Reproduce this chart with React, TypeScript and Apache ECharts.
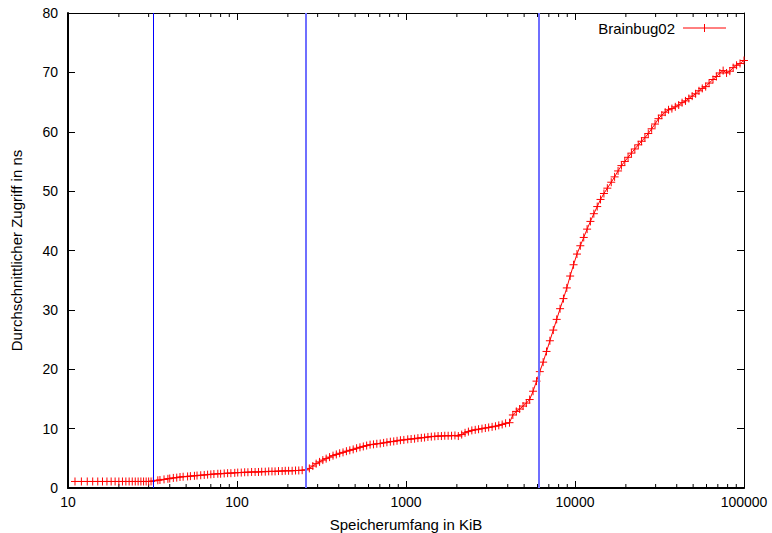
import React, { useEffect, useRef } from 'react';
import * as echarts from 'echarts';

const FONT = '"Liberation Sans", Arial, Helvetica, sans-serif';

// Memory size in KiB
const sizesKiB = [
  11, 12, 13, 14, 15, 16, 17, 18, 19, 20, 21, 22, 23, 24, 25, 26, 27, 28, 29, 30, 31,
  32, 34, 35, 37, 39, 40, 42, 44, 46, 48,
  51, 53, 56, 58, 61, 64, 67, 70, 73, 77,
  80, 84, 88, 92, 97, 101, 106, 111, 116, 122,
  128, 134, 140, 147, 154, 161, 168, 176, 185, 193,
  202, 212, 222, 232, 243, 256,
  268, 281, 294, 308, 322, 337, 353, 370, 387, 405,
  424, 444, 465, 487, 510, 534, 559, 585, 613, 642,
  672, 704, 737, 771, 808, 846, 885, 927, 971, 1024,
  1072, 1124, 1176, 1232, 1288, 1348, 1412, 1480, 1548, 1620,
  1696, 1776, 1860, 1948, 2040, 2136, 2236, 2340, 2452, 2568,
  2688, 2816, 2948, 3084, 3232, 3384, 3540, 3708, 3884, 4096,
  4288, 4496, 4704, 4928, 5152, 5392, 5648, 5920, 6192, 6480,
  6784, 7104, 7440, 7792, 8160, 8544, 8944, 9360, 9808, 10272,
  10752, 11264, 11792, 12336, 12928, 13536, 14160, 14832, 15536, 16384,
  17152, 17984, 18816, 19712, 20608, 21568, 22592, 23680, 24768, 25920,
  27136, 28416, 29760, 31168, 32640, 34176, 35776, 37440, 39232, 41088,
  43008, 45056, 47168, 49344, 51712, 54144, 56640, 59328, 62144, 65536,
  68608, 71936, 75264, 78848, 82432, 86272, 90368, 94720, 100000,
];

// Average access time in ns
const latencyNs = [
  1.1, 1.1, 1.1, 1.1, 1.1, 1.1, 1.1, 1.1, 1.1, 1.1, 1.1, 1.1, 1.1, 1.1, 1.1, 1.1, 1.1, 1.1, 1.1, 1.1, 1.1,
  1.2, 1.3, 1.35, 1.45, 1.55, 1.6, 1.7, 1.75, 1.85, 1.9,
  1.95, 2.0, 2.05, 2.1, 2.15, 2.2, 2.25, 2.3, 2.35, 2.4,
  2.4, 2.45, 2.5, 2.5, 2.55, 2.6, 2.6, 2.65, 2.65, 2.7,
  2.7, 2.7, 2.75, 2.75, 2.8, 2.8, 2.8, 2.85, 2.85, 2.9,
  2.9, 2.9, 2.95, 2.95, 3.0, 3.05,
  3.3, 3.7, 4.1, 4.4, 4.7, 4.95, 5.2, 5.45, 5.65, 5.85,
  6.0, 6.2, 6.35, 6.5, 6.7, 6.85, 7.0, 7.15, 7.3, 7.35,
  7.45, 7.5, 7.6, 7.7, 7.8, 7.85, 7.95, 8.05, 8.1, 8.2,
  8.25, 8.3, 8.4, 8.45, 8.5, 8.6, 8.65, 8.7, 8.75, 8.75,
  8.8, 8.8, 8.8, 8.85, 8.75, 9.0, 9.3, 9.5, 9.7, 9.8,
  9.9, 10.0, 10.1, 10.2, 10.3, 10.4, 10.55, 10.7, 10.9, 11.0,
  12.3, 12.9, 13.3, 13.8, 14.3, 14.9, 16.3, 18.0, 19.6, 21.2,
  23.0, 24.8, 26.6, 28.4, 30.2, 31.9, 33.7, 35.7, 37.6, 39.4,
  40.8, 42.2, 43.6, 44.9, 46.2, 47.4, 48.6, 49.6, 50.5, 51.5,
  52.4, 53.4, 54.3, 55.0, 55.7, 56.4, 57.1, 57.8, 58.4, 59.0,
  59.7, 60.5, 61.3, 62.2, 62.8, 63.3, 63.7, 63.9, 64.2, 64.5,
  64.9, 65.2, 65.6, 66.0, 66.4, 66.9, 67.3, 67.6, 68.2, 68.8,
  69.3, 69.9, 70.3, 69.9, 70.2, 70.8, 71.2, 71.5, 72.0,
];

// Cache size boundaries (KiB): L1, L2, L3
const cacheBoundaries = [32, 256, 6144];
const cacheColors = ['#0000ff', '#6f6fff', '#6f6fff'];
const cacheWidths = [1, 2, 2];

// Minor log ticks on the x axis
const minorTickValues = [
  20, 30, 40, 50, 60, 70, 80, 90,
  200, 300, 400, 500, 600, 700, 800, 900,
  2000, 3000, 4000, 5000, 6000, 7000, 8000, 9000,
  20000, 30000, 40000, 50000, 60000, 70000, 80000, 90000,
];

const SERIES_NAME = 'Brainbug02';
const CROSS = 'path://M0,5L10,5M5,0L5,10';

export default function App() {
  const ref = useRef<HTMLDivElement>(null);

  useEffect(() => {
    if (!ref.current) return;
    const chart = echarts.init(ref.current, undefined, { renderer: 'svg' });

    const option: any = {
      animation: false,
      backgroundColor: '#ffffff',
      textStyle: { fontFamily: FONT },
      grid: { left: 68, right: 28, top: 13, bottom: 45, outerBoundsMode: 'none', containLabel: false },
      graphic: [
        {
          type: 'text',
          x: 675,
          y: 28,
          silent: true,
          style: {
            text: SERIES_NAME,
            align: 'right',
            verticalAlign: 'middle',
            fontSize: 15,
            fontFamily: FONT,
            fill: '#000',
          },
        },
        {
          type: 'line',
          silent: true,
          shape: { x1: 683, y1: 28, x2: 726, y2: 28 },
          style: { stroke: '#ff0000', lineWidth: 1 },
        },
        {
          type: 'line',
          silent: true,
          shape: { x1: 704.5, y1: 24, x2: 704.5, y2: 32 },
          style: { stroke: '#ff0000', lineWidth: 1 },
        },
      ],
      xAxis: [
        {
          type: 'log',
          logBase: 10,
          min: 10,
          max: 100000,
          name: 'Speicherumfang in KiB',
          nameLocation: 'middle',
          nameGap: 29,
          nameTextStyle: { fontSize: 15, color: '#000', fontFamily: FONT },
          axisLine: { show: true, onZero: false, lineStyle: { color: '#000', width: 2 } },
          axisTick: { show: true, inside: true, length: 7, lineStyle: { color: '#000', width: 1 } },
          axisLabel: {
            fontSize: 14,
            color: '#000',
            margin: 7,
            fontFamily: FONT,
            formatter: (v: number) => String(Math.round(v)),
          },
          splitLine: { show: false },
        },
        {
          type: 'log',
          logBase: 10,
          min: 10,
          max: 100000,
          position: 'top',
          axisLine: { show: true, onZero: false, lineStyle: { color: '#000', width: 1 } },
          axisTick: { show: true, inside: true, length: 7, lineStyle: { color: '#000', width: 1 } },
          axisLabel: { show: false },
          splitLine: { show: false },
        },
      ],
      yAxis: [
        {
          type: 'value',
          min: 0,
          max: 80,
          interval: 10,
          name: 'Durchschnittlicher Zugriff in ns',
          nameLocation: 'middle',
          nameGap: 44,
          nameTextStyle: { fontSize: 15, color: '#000', fontFamily: FONT },
          axisLine: { show: true, onZero: false, lineStyle: { color: '#000', width: 2 } },
          axisTick: { show: true, inside: true, length: 7, lineStyle: { color: '#000', width: 1 } },
          axisLabel: { fontSize: 14, color: '#000', margin: 10, fontFamily: FONT },
          splitLine: { show: false },
        },
        {
          type: 'value',
          min: 0,
          max: 80,
          interval: 10,
          position: 'right',
          axisLine: { show: true, onZero: false, lineStyle: { color: '#000', width: 1 } },
          axisTick: { show: true, inside: true, length: 7, lineStyle: { color: '#000', width: 1 } },
          axisLabel: { show: false },
          splitLine: { show: false },
        },
      ],
      series: [
        {
          type: 'custom',
          name: 'minorTicks',
          coordinateSystem: 'cartesian2d',
          xAxisIndex: 0,
          yAxisIndex: 0,
          silent: true,
          clip: false,
          encode: { x: 0, y: 1 },
          data: minorTickValues.map((v) => [v, 0]),
          renderItem: (_params: any, api: any) => {
            const x = api.value(0);
            const b = api.coord([x, 0]);
            const t = api.coord([x, 80]);
            return {
              type: 'group',
              children: [
                {
                  type: 'line',
                  shape: { x1: b[0], y1: b[1], x2: b[0], y2: b[1] - 4 },
                  style: { stroke: '#000', lineWidth: 1 },
                },
                {
                  type: 'line',
                  shape: { x1: t[0], y1: t[1], x2: t[0], y2: t[1] + 4 },
                  style: { stroke: '#000', lineWidth: 1 },
                },
              ],
            };
          },
        },
        {
          name: SERIES_NAME,
          type: 'line',
          xAxisIndex: 0,
          yAxisIndex: 0,
          data: sizesKiB.map((s, i) => [s, latencyNs[i]]),
          symbol: CROSS,
          symbolSize: 8,
          showSymbol: true,
          showAllSymbol: true,
          lineStyle: { color: '#ff0000', width: 1 },
          itemStyle: { color: '#ff0000', borderColor: '#ff0000', borderWidth: 1 },
          z: 3,
          markLine: {
            silent: true,
            symbol: ['none', 'none'],
            label: { show: false },
            data: cacheBoundaries.map((c, i) => ({
              xAxis: c,
              lineStyle: { color: cacheColors[i], width: cacheWidths[i], type: 'solid' },
            })),
          },
        },
      ],
    };

    chart.setOption(option);
    return () => chart.dispose();
  }, []);

  return (
    <div
      ref={ref}
      style={{ position: 'fixed', left: 0, top: 0, width: 772, height: 533, background: '#fff' }}
    />
  );
}
